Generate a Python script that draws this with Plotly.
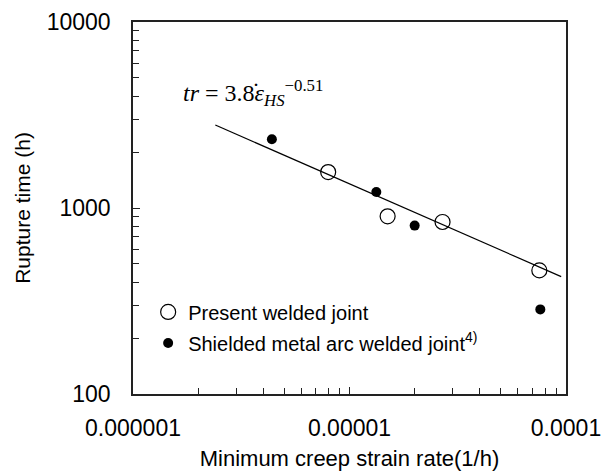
import numpy as np
import plotly.graph_objects as go

# Present welded joint (open circles)
present_rate = [7.97e-6, 1.50e-5, 2.69e-5, 7.53e-5]
present_time = [1560, 902, 841, 462]

# Shielded metal arc welded joint (filled dots)
smaw_rate = [4.38e-6, 1.33e-5, 2.00e-5, 7.61e-5]
smaw_time = [2342, 1218, 804, 285]

# Fitted relation tr = A * rate^n
fit_A = 3.8
fit_n = -0.51
fit_range = [2.4e-6, 9.5e-5]

x_tickvals = [1e-6, 1e-5, 1e-4]
x_ticktext = ["0.000001", "0.00001", "0.0001"]
y_tickvals = [100, 1000, 10000]
y_ticktext = ["100", "1000", "10000"]

fit_x = np.array(fit_range)
fit_y = fit_A * fit_x ** fit_n

FONT = "Liberation Sans, Arial, sans-serif"
SERIF = "Liberation Serif, Times New Roman, serif"

fig = go.Figure()
fig.add_trace(go.Scatter(
    x=fit_x, y=fit_y, mode="lines",
    line=dict(color="black", width=1.2),
    showlegend=False, hoverinfo="skip",
))
fig.add_trace(go.Scatter(
    x=present_rate, y=present_time, mode="markers",
    name="Present welded joint", legendgroup="a",
    marker=dict(symbol="circle-open", size=15, color="black", line=dict(width=1.2)),
))
fig.add_trace(go.Scatter(
    x=smaw_rate, y=smaw_time, mode="markers",
    name="Shielded metal arc welded joint<sup>4)</sup>", legendgroup="b",
    marker=dict(symbol="circle", size=10, color="black"),
))

axis_common = dict(
    showline=True, linecolor="#222", linewidth=1.5, mirror=True,
    showgrid=False, zeroline=False, automargin=False,
    ticks="inside", ticklen=7, tickwidth=1, tickcolor="#222",
    tickfont=dict(family=FONT, size=23, color="black"),
    minor=dict(ticks="inside", ticklen=6, tickwidth=1, tickcolor="#222",
               dtick="D1", showgrid=False),
)

fig.update_xaxes(
    type="log", range=[-6, -4],
    tickvals=x_tickvals, ticktext=x_ticktext,
    ticklabelstandoff=13,
    title=dict(text="Minimum creep strain rate(1/h)",
               font=dict(family=FONT, size=22, color="black"), standoff=10),
    **axis_common,
)
fig.update_yaxes(
    type="log", range=[2, 4],
    tickvals=y_tickvals, ticktext=y_ticktext,
    ticklabelstandoff=16,
    title=dict(text="Rupture time (h)",
               font=dict(family=FONT, size=21, color="black"), standoff=10),
    **axis_common,
)

# Fit equation; the rate symbol carries a dot accent drawn separately
fig.add_annotation(
    xref="paper", yref="paper", x=0.11, y=0.81,
    xanchor="left", yanchor="middle", showarrow=False,
    text="<i>tr</i> = 3.8<i>ε</i><sub><i>HS</i></sub><sup>−0.51</sup>",
    font=dict(family=SERIF, size=24, color="black"),
)
fig.add_annotation(
    xref="paper", yref="paper", x=0.284, y=0.815,
    xanchor="center", yanchor="middle", showarrow=False,
    text="˙",
    font=dict(family=SERIF, size=24, color="black"),
)

fig.update_layout(
    width=613, height=474,
    margin=dict(l=133, r=47, t=22, b=80),
    paper_bgcolor="white", plot_bgcolor="white",
    showlegend=True,
    legend=dict(
        x=0.035, y=0.273, xanchor="left", yanchor="top",
        bgcolor="rgba(0,0,0,0)", borderwidth=0,
        font=dict(family=FONT, size=20, color="black"),
        itemwidth=30, tracegroupgap=2,
    ),
)

fig.write_html("out.html")
